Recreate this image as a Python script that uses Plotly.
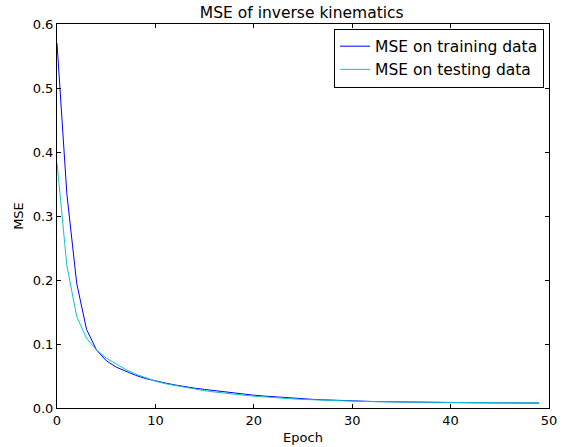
import plotly.graph_objects as go

epochs = list(range(50))
train_mse = [0.570, 0.335, 0.195, 0.123, 0.091, 0.074, 0.064, 0.057, 0.051, 0.046,
             0.042, 0.039, 0.036, 0.033, 0.031, 0.029, 0.027, 0.025, 0.023, 0.0215,
             0.020, 0.0187, 0.0175, 0.0163, 0.0152, 0.0143, 0.0135, 0.0128, 0.0121, 0.0115,
             0.0110, 0.0106, 0.0102, 0.0099, 0.0096, 0.0093, 0.0091, 0.0089, 0.0087, 0.0085,
             0.0084, 0.0083, 0.0082, 0.0081, 0.0080, 0.0079, 0.0078, 0.0078, 0.0077, 0.0077]
test_mse = [0.383, 0.223, 0.143, 0.109, 0.091, 0.078, 0.069, 0.060, 0.053, 0.047,
            0.042, 0.038, 0.035, 0.032, 0.029, 0.027, 0.025, 0.023, 0.0215, 0.020,
            0.0185, 0.0172, 0.0161, 0.0151, 0.0142, 0.0134, 0.0127, 0.0121, 0.0116, 0.0111,
            0.0107, 0.0103, 0.0100, 0.0097, 0.0095, 0.0093, 0.0091, 0.0089, 0.0088, 0.0087,
            0.0086, 0.0085, 0.0084, 0.0084, 0.0083, 0.0083, 0.0082, 0.0082, 0.0082, 0.0081]
x_ticks = [0, 10, 20, 30, 40, 50]
y_ticks = [0.0, 0.1, 0.2, 0.3, 0.4, 0.5, 0.6]

font = "DejaVu Sans, Liberation Sans, sans-serif"

fig = go.Figure()
fig.add_trace(go.Scatter(x=epochs, y=train_mse, mode="lines", name="MSE on training data",
                         line=dict(color="#0000ff", width=1)))
fig.add_trace(go.Scatter(x=epochs, y=test_mse, mode="lines", name="MSE on testing data",
                         line=dict(color="#10c4c4", width=1)))

axis_common = dict(showgrid=False, zeroline=False, showline=True, linecolor="black",
                   linewidth=1, mirror="ticks", ticks="inside", ticklen=4,
                   tickcolor="black", automargin=False,
                   tickfont=dict(family=font, size=13, color="black"))

fig.update_layout(
    width=564, height=447,
    margin=dict(l=57, r=15, t=24, b=39),
    paper_bgcolor="white", plot_bgcolor="white",
    font=dict(family=font, size=13, color="black"),
    title=dict(text="MSE of inverse kinematics", x=0.535, xanchor="center",
               y=0.972, yanchor="middle", font=dict(family=font, size=15.5, color="black")),
    xaxis=dict(range=[0, 50], tickvals=x_ticks, ticktext=[str(v) for v in x_ticks],
               title=dict(text="Epoch", font=dict(family=font, size=13), standoff=6),
               **axis_common),
    yaxis=dict(range=[0, 0.6], tickvals=y_ticks, ticktext=[f"{v:.1f}" for v in y_ticks],
               title=dict(text="MSE", font=dict(family=font, size=13), standoff=6),
               **axis_common),
    legend=dict(x=0.990, y=0.988, xanchor="right", yanchor="top",
                bordercolor="black", borderwidth=1, bgcolor="white",
                font=dict(family=font, size=15.5, color="black"),
                itemwidth=30, tracegroupgap=0),
    showlegend=True,
)

fig.write_html("out.html",
               config={"displayModeBar": False},
               post_script="document.body.style.margin='0px';document.body.style.padding='0px';")
